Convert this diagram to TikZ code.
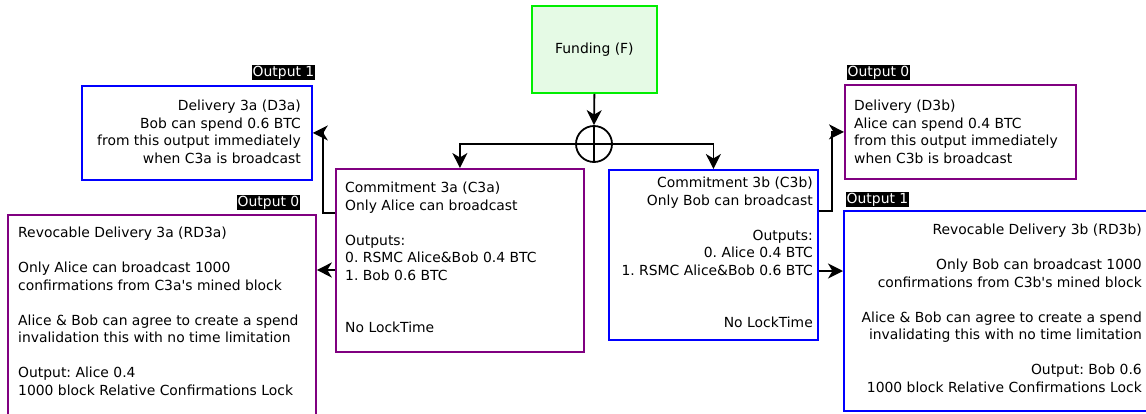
\documentclass[tikz,border=0pt]{standalone}
\usepackage{fontspec}
\setmainfont{DejaVu Sans}
\usetikzlibrary{arrows.meta}
\definecolor{fundgreen}{RGB}{0,238,0}
\definecolor{fundfill}{RGB}{229,250,229}
\definecolor{chanpurple}{RGB}{128,0,128}
\definecolor{chanblue}{RGB}{0,0,255}
\frenchspacing
\begin{document}
\begin{tikzpicture}[x=1pt,y=-1pt,font=\fontsize{13.9}{17.5}\selectfont,
    box/.style={draw=#1,line width=1.8pt,anchor=north west,inner sep=0pt},
    txt/.style={inner sep=0pt,align=#1},
    tag/.style={fill=black,text=white,inner sep=1pt},
    arr/.style={line width=1.8pt,-{Stealth[length=15pt,width=15pt,inset=4.5pt]}}]
  \useasboundingbox (0,0) rectangle (1146,413);
  \clip (0,0) rectangle (1146,413);
  \node[box=fundgreen,fill=fundfill,minimum width=125,minimum height=87] (funding) at (531,5) {Funding (F)};
  \node[draw,circle,line width=1.8pt,minimum size=36,inner sep=0pt] (xor) at (594,144) {};
  \draw[line width=1.8pt] (xor.north)--(xor.south) (xor.west)--(xor.east);

  \node[box=chanpurple,minimum width=248,minimum height=183] (c3a) at (335,168) {};
  \node[box=chanblue,minimum width=209,minimum height=170] (c3b) at (608,169) {};
  \node[box=chanblue,minimum width=230,minimum height=94] (d3a) at (81,85) {};
  \node[box=chanpurple,minimum width=231,minimum height=94] (d3b) at (844,84) {};
  \node[box=chanpurple,minimum width=308,minimum height=202] (rd3a) at (7,214) {};
  \node[box=chanblue,minimum width=307,minimum height=200] (rd3b) at (843,210) {};

  \node[txt=left,anchor=north west] (c3a-text) at (345,182) {Commitment 3a (C3a)\\Only Alice can broadcast\\[17.5pt]
    Outputs:\\0. RSMC Alice\&Bob 0.4 BTC\\1. Bob 0.6 BTC\\[35pt]No LockTime};
  \node[txt=right,anchor=north east] (c3b-text) at (813,177) {Commitment 3b (C3b)\\Only Bob can broadcast\\[17.5pt]
    Outputs:\hspace*{.32em}\\0. Alice 0.4 BTC\\1. RSMC Alice\&Bob 0.6 BTC\\[35pt]No LockTime};
  \node[txt=right,anchor=north east] (d3a-text) at (301,100) {Delivery 3a (D3a)\\Bob can spend 0.6 BTC\\
    from this output immediately\\when C3a is broadcast};
  \node[txt=left,anchor=north west] (d3b-text) at (854,100) {Delivery (D3b)\\Alice can spend 0.4 BTC\\
    from this output immediately\\when C3b is broadcast};
  \node[txt=left,anchor=north west] (rd3a-text) at (18,227) {Revocable Delivery 3a (RD3a)\\[17.5pt]
    Only Alice can broadcast 1000\\confirmations from C3a\textquotesingle s mined block\\[17.5pt]
    Alice \& Bob can agree to create a spend\\invalidation this with no time limitation\\[17.5pt]
    Output: Alice 0.4\\1000 block Relative Confirmations Lock};
  \node[txt=right,anchor=north east] (rd3b-text) at (1142,224) {Revocable Delivery 3b (RD3b)\\[17.5pt]
    Only Bob can broadcast 1000\\confirmations from C3b\textquotesingle s mined block\\[17.5pt]
    Alice \& Bob can agree to create a spend\\invalidating this with no time limitation\\[17.5pt]
    Output: Bob 0.6\\1000 block Relative Confirmations Lock};

  \node[tag] (d3a-tag) at (283.5,72.5) {Output 1};
  \node[tag] (rd3a-tag) at (268.5,202.5) {Output 0};
  \node[tag] (d3b-tag) at (878.5,72.5) {Output 0};
  \node[tag] (rd3b-tag) at (877.5,199.5) {Output 1};

  \draw[arr] (funding.south) -- (xor.north);
  \draw[arr] (xor.west) -| (c3a.north);
  \draw[arr] (xor.east) -| (c3b.north);
  \draw[arr] (c3a.west |- 0,213) -- ++(-12,0) |- (d3a.east);
  \draw[arr] (c3a.west |- 0,270) -- (rd3a.east |- 0,270);
  \draw[arr] (c3b.east |- 0,211) -- ++(13,0) |- (d3b.west);
  \draw[arr] (c3b.east |- 0,271) -- (rd3b.west |- 0,271);
\end{tikzpicture}
\end{document}
